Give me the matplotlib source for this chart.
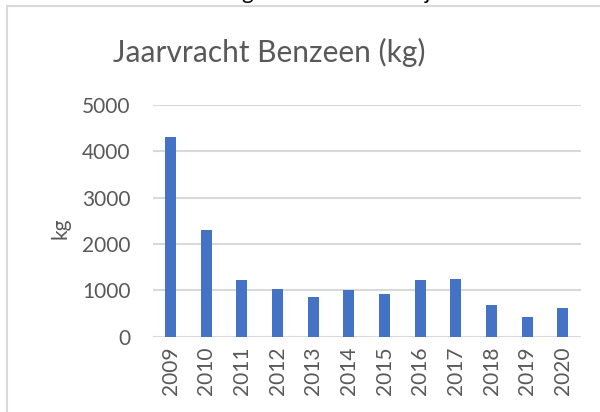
import matplotlib.pyplot as plt
from matplotlib.patches import Rectangle

years = ['2009', '2010', '2011', '2012', '2013', '2014', '2015', '2016',
         '2017', '2018', '2019', '2020']
benzeen = [4300, 2300, 1220, 1040, 860, 1010, 915, 1215, 1240, 680, 425, 620]
yticks = [0, 1000, 2000, 3000, 4000, 5000]

plt.rcParams['font.family'] = ['Lato', 'DejaVu Sans']
grey = '#595959'

fig = plt.figure(figsize=(6, 4.12), dpi=100)
W, H = 600, 412

# chart border (partly outside the crop)
fig.patches.append(Rectangle((7 / W, -0.1), 1.2, 1 - 6 / H + 0.1,
                             transform=fig.transFigure, fill=False,
                             edgecolor='#d9d9d9', linewidth=1.5))

# cut-off text above the chart
fig.text(247 / W, 1 + 1 / H, 'g', fontsize=16, color='black', ha='center', va='baseline')
fig.text(427 / W, 1 + 1 / H, 'j', fontsize=16, color='black', ha='center', va='baseline')

ax = fig.add_axes([152.7 / W, 1 - 336.7 / H, 428 / W, (336.7 - 105) / H])
x = range(len(years))
ax.bar(x, benzeen, width=0.31, color='#4472C4', zorder=3)

ax.set_ylim(0, 5000)
ax.set_xlim(-0.5, len(years) - 0.5)
ax.set_yticks(yticks)
ax.set_yticklabels([str(v) for v in yticks])
ax.set_xticks(list(x))
ax.set_xticklabels(years, rotation=90)
ax.grid(axis='y', color='#d9d9d9', linewidth=1.5, zorder=0)
for s in ax.spines.values():
    s.set_visible(False)
ax.tick_params(length=0, labelsize=15, colors=grey)
ax.tick_params(axis='y', pad=16)
ax.tick_params(axis='x', pad=7)

fig.text(60 / W, 1 - 228 / H, 'kg', fontsize=15, color=grey, rotation=90,
         ha='center', va='center')
fig.text(269 / W, 1 - 52 / H, 'Jaarvracht Benzeen (kg)', fontsize=21.5,
         color=grey, ha='center', va='center')

fig.savefig('out.png', dpi=100)
